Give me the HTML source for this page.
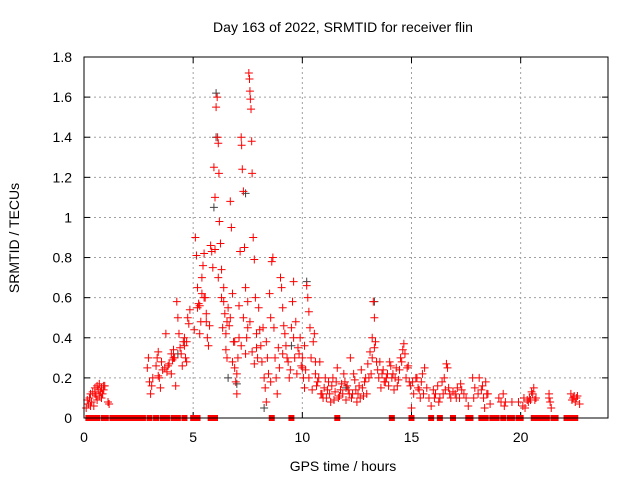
<!DOCTYPE html>
<html><head><meta charset="utf-8"><style>
body{margin:0;background:#fff}
svg text{font-family:"Liberation Sans",sans-serif;font-size:14px;fill:#000}
</style></head><body>
<svg id="chart" width="640" height="480">
<text x="343" y="32" text-anchor="middle">Day 163 of 2022, SRMTID for receiver flin</text>
<text x="343" y="471" text-anchor="middle">GPS time / hours</text>
<text transform="translate(19,238) rotate(-90)" text-anchor="middle">SRMTID / TECUs</text>
<g id="grid"></g>
<g id="ticks"></g>
<g id="gray"></g>
<g id="red"></g>
<rect x="84" y="57" width="524" height="361" fill="none" stroke="#000"/>
</svg>
<script>
const xTicks=[0,5,10,15,20];
const yTicks=[0,0.2,0.4,0.6,0.8,1,1.2,1.4,1.6,1.8];
const yTickLabels=["0","0.2","0.4","0.6","0.8","1","1.2","1.4","1.6","1.8"];
const redT=[0.1,0.2,0.25,0.3,0.35,0.4,0.5,0.55,0.6,0.65,0.7,0.75,0.8,0.85,0.9,0.95,0.6,0.45,1.1,1.15,
2.9,2.95,3.0,3.05,3.1,3.3,3.35,3.4,3.45,3.5,3.6,3.7,3.75,3.8,3.9,4.0,4.05,4.1,4.15,4.2,4.25,4.3,4.35,4.4,4.5,4.55,4.6,4.65,4.7,4.75,4.8,4.85,
5.1,5.15,5.2,5.25,5.3,5.35,5.4,5.45,5.5,5.55,5.6,5.7,5.8,5.85,5.9,5.95,6.0,6.05,6.1,6.12,6.15,6.18,6.2,6.25,6.3,6.35,6.4,6.45,6.5,6.55,6.6,6.7,6.75,6.8,6.85,6.9,6.95,7.0,7.05,7.1,7.15,7.2,7.22,7.25,7.3,7.35,7.4,7.45,7.5,7.55,7.58,7.6,7.62,7.65,7.68,7.7,7.75,7.8,7.85,7.9,7.95,8.0,
8.1,8.2,8.3,8.35,8.4,8.5,8.55,8.6,8.65,8.7,8.8,8.9,9.0,9.05,9.1,9.2,9.3,9.4,9.5,9.55,9.6,9.7,9.8,9.9,10.0,10.05,10.1,10.2,10.25,10.3,10.35,10.4,10.5,10.55,10.6,10.7,10.8,10.9,
11.0,11.1,11.2,11.3,11.4,11.5,11.6,11.7,11.8,11.9,12.0,12.1,12.2,12.3,12.4,12.5,12.6,12.7,12.8,12.9,13.0,13.1,13.2,13.25,13.3,13.35,13.4,13.5,13.6,13.7,13.8,13.9,14.0,14.1,14.2,14.3,14.4,14.5,14.6,14.65,14.7,14.8,14.9,15.0,15.1,15.2,15.3,15.4,15.5,15.6,
15.8,15.9,16.0,16.1,16.2,16.3,16.4,16.5,16.6,16.65,16.7,16.8,17.0,17.1,17.2,17.3,17.5,17.6,17.8,17.9,18.1,18.2,18.3,18.35,18.4,18.5,18.6,19.0,19.2,19.3,19.6,19.9,20.1,20.2,20.3,20.4,20.5,20.6,20.7,21.3,21.35,21.4,22.3,22.4,22.5,22.6,22.7];
const redV=[0.05,0.07,0.1,0.12,0.08,0.13,0.15,0.11,0.16,0.14,0.17,0.13,0.15,0.12,0.14,0.16,0.09,0.06,0.08,0.07,
0.25,0.3,0.18,0.12,0.16,0.26,0.3,0.33,0.2,0.15,0.24,0.25,0.42,0.23,0.27,0.32,0.29,0.34,0.3,0.16,0.58,0.5,0.42,0.35,0.26,0.38,0.4,0.3,0.28,0.5,0.47,0.54,
0.9,0.81,0.65,0.57,0.42,0.48,0.62,0.76,0.82,0.6,0.52,0.36,0.86,0.83,0.75,1.25,1.1,1.55,1.6,1.4,1.37,1.22,0.98,0.87,0.74,0.45,0.65,0.52,0.42,0.3,0.55,1.08,0.95,0.62,0.38,0.25,0.18,0.12,0.3,0.56,0.83,1.4,1.36,1.24,1.13,0.85,0.65,0.4,0.45,1.72,1.69,1.63,1.59,1.54,1.38,1.22,0.9,0.79,0.6,0.35,0.3,0.55,
0.36,0.45,0.15,0.08,0.3,0.62,0.5,0.78,0.8,0.45,0.2,0.35,0.7,0.65,0.55,0.42,0.3,0.2,0.45,0.58,0.68,0.48,0.35,0.4,0.25,0.2,0.15,0.66,0.6,0.53,0.45,0.3,0.38,0.42,0.22,0.18,0.28,0.12,
0.15,0.1,0.18,0.08,0.2,0.13,0.25,0.11,0.17,0.22,0.09,0.14,0.3,0.12,0.19,0.08,0.16,0.24,0.11,0.2,0.27,0.33,0.4,0.58,0.5,0.38,0.28,0.2,0.15,0.24,0.18,0.22,0.28,0.2,0.14,0.25,0.19,0.3,0.34,0.37,0.32,0.25,0.18,0.05,0.12,0.2,0.15,0.1,0.22,0.25,
0.1,0.06,0.14,0.12,0.16,0.1,0.18,0.2,0.27,0.25,0.15,0.1,0.12,0.15,0.1,0.14,0.1,0.06,0.2,0.15,0.2,0.14,0.1,0.05,0.18,0.12,0.07,0.1,0.12,0.08,0.08,0.08,0.06,0.05,0.09,0.1,0.13,0.15,0.1,0.12,0.08,0.05,0.12,0.1,0.08,0.11,0.07];
const redT2=[0.15,0.3,0.5,0.7,0.8,0.9,3.15,3.4,3.55,3.85,4.0,4.1,4.45,4.6,4.7,5.05,5.2,5.3,5.4,5.5,5.6,5.65,5.75,6.0,6.15,6.3,6.4,6.5,6.55,6.65,6.7,6.8,6.9,7.0,7.1,7.2,7.3,7.4,7.5,7.6,7.7,7.8,7.9,8.05,8.15,8.25,8.35,8.45,8.55,8.75,8.85,8.95,9.1,9.15,9.25,9.35,9.45,9.6,9.65,9.75,9.85,9.95,10.0,10.1,10.15,10.3,10.45,10.6,10.65,10.75,10.85,10.95,11.05,11.15,11.25,11.35,11.45,11.55,11.65,11.75,11.85,11.95,12.05,12.15,12.25,12.35,12.45,12.55,12.65,12.75,12.85,12.95,13.05,13.15,13.2,13.3,13.45,13.55,13.65,13.75,13.85,13.95,14.05,14.15,14.25,14.35,14.45,14.55,14.75,14.85,14.95,15.05,15.25,15.35,15.45,15.55,15.7,16.05,16.25,16.45,16.55,16.75,16.9,17.05,17.25,17.4,17.85,18.05,18.25,18.45,19.1,19.25,20.15,20.35,20.45,20.55,20.65,21.3,22.35,22.45,22.55];
const redV2=[0.09,0.06,0.12,0.11,0.1,0.16,0.2,0.21,0.28,0.26,0.22,0.3,0.32,0.36,0.38,0.44,0.55,0.56,0.7,0.6,0.48,0.4,0.46,0.84,0.7,0.6,0.58,0.34,0.48,0.46,0.5,0.28,0.38,0.22,0.4,0.36,0.5,0.32,0.58,0.48,0.33,0.27,0.42,0.44,0.28,0.2,0.38,0.22,0.18,0.3,0.12,0.25,0.32,0.46,0.36,0.28,0.24,0.4,0.3,0.22,0.32,0.26,0.3,0.36,0.24,0.2,0.14,0.28,0.16,0.2,0.12,0.1,0.2,0.14,0.12,0.16,0.09,0.18,0.1,0.14,0.12,0.18,0.16,0.12,0.1,0.22,0.14,0.12,0.1,0.15,0.18,0.12,0.2,0.22,0.3,0.35,0.24,0.28,0.22,0.18,0.2,0.16,0.26,0.22,0.2,0.16,0.24,0.28,0.2,0.26,0.16,0.18,0.2,0.14,0.18,0.12,0.15,0.1,0.08,0.12,0.14,0.12,0.13,0.1,0.17,0.12,0.1,0.12,0.16,0.12,0.08,0.06,0.1,0.08,0.09,0.12,0.09,0.1,0.09,0.11,0.1];
const grayT=[6.05,6.05,7.4,10.2,13.3,8.25,7.0,5.95,4.3,9.5,6.6,12.0];
const grayV=[1.62,1.4,1.12,0.68,0.58,0.05,0.17,1.05,0.32,0.36,0.2,0.15];
const zeroT=[0.2,0.35,0.5,0.6,0.9,1.0,1.3,1.4,1.6,1.8,2.0,2.1,2.2,2.3,2.4,2.5,2.6,2.7,3.0,3.3,3.6,3.8,4.1,4.3,4.6,5.0,5.1,5.2,5.8,5.9,6.0,8.6,9.5,11.6,14.1,15.0,15.9,16.3,16.9,17.6,17.7,18.2,18.4,18.7,18.9,19.2,19.5,19.6,19.9,20.0,20.6,20.8,21.0,21.2,21.5,21.6,22.1,22.3,22.5];
const NS="http://www.w3.org/2000/svg";
const X=h=>84+h*(524/24);
const Y=v=>418-v*(361/1.8);
function mk(tag,attrs,parent){const e=document.createElementNS(NS,tag);for(const k in attrs)e.setAttribute(k,attrs[k]);parent.appendChild(e);return e;}
const grid=document.getElementById('grid'),ticks=document.getElementById('ticks');
xTicks.forEach(t=>{const x=X(t);
 if(t>0){const l=mk('line',{x1:x,x2:x,y1:57,y2:418,stroke:'#a0a0a0','stroke-dasharray':'2,3'},grid);
 
 }
 mk('line',{x1:x,x2:x,y1:418,y2:412,stroke:'#000'},ticks);mk('line',{x1:x,x2:x,y1:57,y2:63,stroke:'#000'},ticks);
 const tx=mk('text',{x:x,y:442,'text-anchor':'middle'},ticks);tx.textContent=t;
 
 });
yTicks.forEach((t,i)=>{const y=Y(t);
 if(t>0&&t<1.8){const l=mk('line',{x1:84,x2:608,y1:y,y2:y,stroke:'#a0a0a0','stroke-dasharray':'2,3'},grid);
 
 }
 mk('line',{x1:84,x2:90,y1:y,y2:y,stroke:'#000'},ticks);mk('line',{x1:608,x2:602,y1:y,y2:y,stroke:'#000'},ticks);
 const tx=mk('text',{x:72,y:y+5,'text-anchor':'end'},ticks);tx.textContent=yTickLabels[i];
 
 });
function plus(g,t,v,c,name){const x=X(t),y=Y(v);
 const p=mk('path',{d:`M${x-4},${y}h8M${x},${y-4}v8`,stroke:c,'stroke-width':1,fill:'none'},g);
 
 }
const gg=document.getElementById('gray'),rg=document.getElementById('red');
grayT.forEach((t,i)=>plus(gg,t,grayV[i],'#404040','gray-point'));
redT.forEach((t,i)=>plus(rg,t,redV[i],'#ff0000','red-point'));
redT2.forEach((t,i)=>plus(rg,t,redV2[i],'#ff0000','red-point'));
zeroT.forEach(t=>{const r=mk('rect',{x:X(t)-3,y:415,width:6,height:6,fill:'#ff0000'},rg);
 
 });
</script>
</body></html>
